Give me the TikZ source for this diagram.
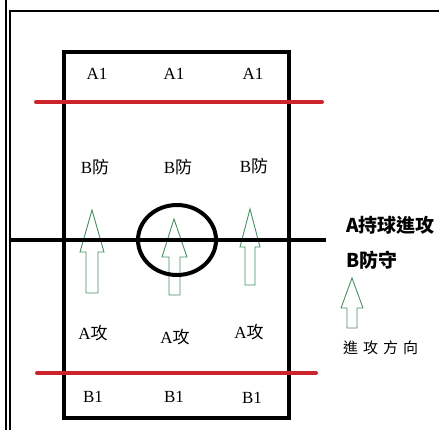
\documentclass[tikz,border=0pt]{standalone}
\usepackage{fontspec}
\setmainfont{Liberation Serif}
\newfontfamily\cjk{Noto Sans CJK TC}
\begin{document}
\begin{tikzpicture}[x=1pt,y=-1pt,
  lbl/.style={font=\fontsize{17}{17}\selectfont, inner sep=0pt},
  leg/.style={font=\fontsize{19}{19}\selectfont\cjk\bfseries, inner sep=0pt, anchor=west},
  redline/.style={draw={rgb,255:red,205;green,35;blue,45}, line width=4pt, line cap=round},
  blackline/.style={draw=black, line width=4pt},
  garrow/.style={draw={rgb,255:red,70;green,145;blue,95}, line width=0.9pt, line join=miter},
  frame/.style={draw=black, line width=2pt}]
\useasboundingbox (0,0) rectangle (439,430);
% frame lines
\draw[frame] (5.5,0) -- (5.5,430);
\draw[frame] (9.5,430) -- (9.5,11) -- (439,11);
% field
\draw[blackline] (64,52) rectangle (289,418);
% arrows (below the black line)
\draw[garrow] (92,210) -- (104,252) -- (98,252) -- (98,293) -- (86,293) -- (86,252) -- (80,252) -- cycle;
\draw[garrow] (174,219) -- (187,257) -- (180,257) -- (180,295) -- (169,295) -- (169,257) -- (162,257) -- cycle;
\draw[garrow] (250,209) -- (260,247) -- (255,247) -- (255,285) -- (245,285) -- (245,247) -- (240,247) -- cycle;
\draw[garrow] (352,278) -- (363,308) -- (357,308) -- (357,328) -- (347,328) -- (347,308) -- (341,308) -- cycle;
% lines
\draw[blackline] (10,240) -- (326,240);
\draw[blackline] (177,240) ellipse [x radius=39, y radius=35];
\draw[redline] (36,102) -- (322,102);
\draw[redline] (37,373) -- (316,373);
% labels
\node[lbl] (a1l) at (97,74) {A1};
\node[lbl] (a1m) at (174,74) {A1};
\node[lbl] (a1r) at (253,74) {A1};
\node[lbl] (bfl) at (95,167) {B{\cjk 防}};
\node[lbl] (bfm) at (178,167) {B{\cjk 防}};
\node[lbl] (bfr) at (254,166) {B{\cjk 防}};
\node[lbl] (agl) at (93,333) {A{\cjk 攻}};
\node[lbl] (agm) at (175,337) {A{\cjk 攻}};
\node[lbl] (agr) at (249,332) {A{\cjk 攻}};
\node[lbl] (b1l) at (93,397) {B1};
\node[lbl] (b1m) at (174,397) {B1};
\node[lbl] (b1r) at (252,398) {B1};
% legend
\node[leg] (lega) at (346,225) {A持球進攻};
\node[leg] (legb) at (346,260) {B防守};
\node[inner sep=0pt, anchor=west, font=\fontsize{15}{15}\selectfont\cjk] (legc) at (343,348) {進\hspace{5pt}攻\hspace{5pt}方\hspace{5pt}向};
\end{tikzpicture}
\end{document}
